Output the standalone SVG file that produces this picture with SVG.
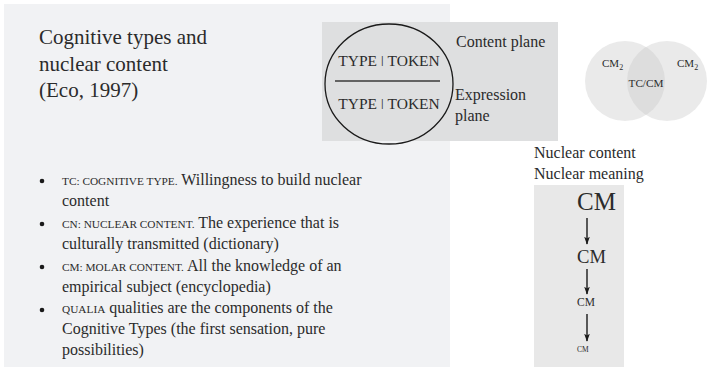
<svg xmlns="http://www.w3.org/2000/svg" width="707" height="367" viewBox="0 0 707 367">
<style>
text { font-family: "Liberation Serif", "Times New Roman", serif; fill: #2b2b2b; }
.t16 { font-size: 16px; }
.sc { font-size: 11.3px; }
.venn { fill: #c8c8c8; fill-opacity: 0.38; }
.conn { stroke: #1a1a1a; stroke-width: 1.4; fill: none; marker-end: url(#ah); }
</style>
<defs>
<marker id="ah" viewBox="0 0 10 7" refX="9" refY="3.5" markerWidth="8" markerHeight="5.6" markerUnits="userSpaceOnUse" orient="auto">
<path d="M0,0 L10,3.5 L0,7 L2,3.5 Z" fill="#1a1a1a"/>
</marker>
</defs>
<rect x="0" y="0" width="707" height="367" fill="#ffffff"/>
<g id="panel-main">
<rect x="4" y="4" width="446" height="363" fill="#f1f2f4"/>
</g>
<g id="title">
<text x="39" y="44" style="font-size:21px">Cognitive types and</text>
<text x="39" y="70.5" style="font-size:21px">nuclear content</text>
<text x="39" y="97" style="font-size:21px">(Eco, 1997)</text>
</g>
<g id="planes">
<rect x="322" y="22" width="236" height="119" fill="#dedfe0"/>
<ellipse cx="389" cy="84" rx="64" ry="60" fill="none" stroke="#1a1a1a" stroke-width="1.3"/>
<line x1="335" y1="81" x2="440" y2="81" stroke="#3a3a3a" stroke-width="1.6"/>
<text x="389" y="66" text-anchor="middle" style="font-size:15.5px">TYPE ǀ TOKEN</text>
<text x="389" y="109" text-anchor="middle" style="font-size:15.5px">TYPE ǀ TOKEN</text>
<text x="456" y="47" class="t16">Content plane</text>
<text x="455" y="100" class="t16">Expression</text>
<text x="455" y="121" class="t16">plane</text>
</g>
<g id="venn">
<circle cx="625" cy="81" r="40" class="venn"/>
<circle cx="667" cy="81" r="40" class="venn"/>
<text x="602" y="67" style="font-size:11px">CM<tspan dy="2.5" style="font-size:8px">2</tspan></text>
<text x="677" y="67" style="font-size:11px">CM<tspan dy="2.5" style="font-size:8px">2</tspan></text>
<text x="646" y="87" text-anchor="middle" style="font-size:11.2px">TC/CM</text>
</g>
<g id="nuclear-labels">
<text x="534" y="158" class="t16">Nuclear content</text>
<text x="534" y="179" class="t16">Nuclear meaning</text>
</g>
<g id="cm-panel">
<rect x="534" y="185" width="90" height="182" fill="#e8e8e8"/>
</g>
<g id="cm1"><text x="577" y="210" style="font-size:25px">CM</text></g>
<g id="cm2"><text x="577" y="263" style="font-size:18.6px">CM</text></g>
<g id="cm3"><text x="577" y="306" style="font-size:11.5px">CM</text></g>
<g id="cm4"><text x="577" y="352" style="font-size:7.5px">CM</text></g>
<g id="connectors">
<line x1="587" y1="218" x2="587" y2="244" class="conn"/>
<line x1="587" y1="269" x2="587" y2="294" class="conn"/>
<line x1="587" y1="314" x2="587" y2="341" class="conn"/>
</g>
<g id="bullets">
<circle cx="42" cy="181" r="2.3" fill="#1a1a1a"/>
<text x="62" y="185" class="t16"><tspan class="sc">TC: COGNITIVE TYPE.</tspan> Willingness to build nuclear</text>
<text x="62" y="206" class="t16">content</text>
<circle cx="42" cy="224" r="2.3" fill="#1a1a1a"/>
<text x="62" y="228" class="t16"><tspan class="sc">CN: NUCLEAR CONTENT.</tspan> The experience that is</text>
<text x="62" y="249" class="t16">culturally transmitted (dictionary)</text>
<circle cx="42" cy="267" r="2.3" fill="#1a1a1a"/>
<text x="62" y="271" class="t16"><tspan class="sc">CM: MOLAR CONTENT.</tspan> All the knowledge of an</text>
<text x="62" y="292" class="t16">empirical subject (encyclopedia)</text>
<circle cx="42" cy="310" r="2.3" fill="#1a1a1a"/>
<text x="62" y="313" class="t16"><tspan class="sc">QUALIA</tspan> qualities are the components of the</text>
<text x="62" y="334" class="t16">Cognitive Types (the first sensation, pure</text>
<text x="62" y="355" class="t16">possibilities)</text>
</g>
</svg>
